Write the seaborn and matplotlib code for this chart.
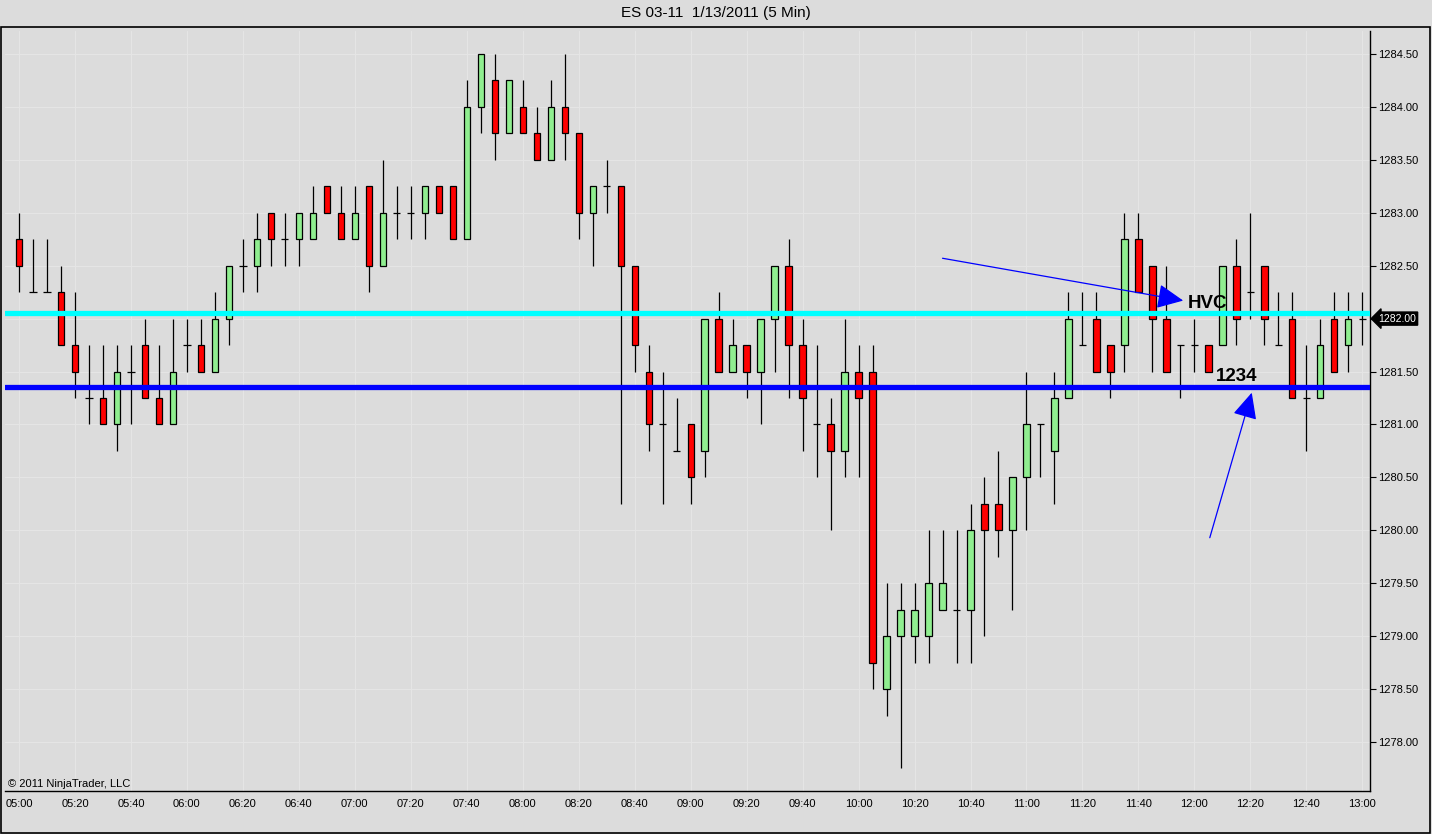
import numpy as np
import pandas as pd
import seaborn as sns
import matplotlib.pyplot as plt
from matplotlib.ticker import FormatStrFormatter
from matplotlib.patches import Rectangle
import matplotlib.transforms as mtransforms

# 5 min bars of ES 03-11, 05:00 .. 13:00
opens = [1282.75, 1282.25, 1282.25, 1282.25, 1281.75, 1281.25, 1281.25, 1281.0, 1281.5, 1281.75,
         1281.25, 1281.0, 1281.75, 1281.75, 1281.5, 1282.0, 1282.5, 1282.5, 1283.0, 1282.75,
         1282.75, 1282.75, 1283.25, 1283.0, 1282.75, 1283.25, 1282.5, 1283.0, 1283.0, 1283.0,
         1283.25, 1283.25, 1282.75, 1284.0, 1284.25, 1283.75, 1284.0, 1283.75, 1283.5, 1284.0,
         1283.75, 1283.0, 1283.25, 1283.25, 1282.5, 1281.5, 1281.0, 1280.75, 1281.0, 1280.75,
         1282.0, 1281.5, 1281.75, 1281.5, 1282.0, 1282.5, 1281.75, 1281.0, 1281.0, 1280.75,
         1281.5, 1281.5, 1278.5, 1279.0, 1279.0, 1279.0, 1279.25, 1279.25, 1279.25, 1280.25,
         1280.25, 1280.0, 1280.5, 1281.0, 1280.75, 1281.25, 1281.75, 1282.0, 1281.75, 1281.75,
         1282.75, 1282.5, 1282.0, 1281.75, 1281.75, 1281.75, 1281.75, 1282.5, 1282.25, 1282.5,
         1281.75, 1282.0, 1281.25, 1281.25, 1282.0, 1281.75, 1282.0]
highs = [1283.0, 1282.75, 1282.75, 1282.5, 1282.25, 1281.75, 1281.75, 1281.75, 1281.75, 1282.0,
         1281.75, 1282.0, 1282.0, 1282.0, 1282.25, 1282.5, 1282.75, 1283.0, 1283.0, 1283.0,
         1283.0, 1283.25, 1283.25, 1283.25, 1283.25, 1283.25, 1283.5, 1283.25, 1283.25, 1283.25,
         1283.25, 1283.25, 1284.25, 1284.5, 1284.5, 1284.25, 1284.25, 1284.0, 1284.25, 1284.5,
         1283.75, 1283.25, 1283.5, 1283.25, 1282.5, 1281.75, 1281.5, 1281.25, 1281.0, 1282.0,
         1282.25, 1282.0, 1281.75, 1282.0, 1282.5, 1282.75, 1282.0, 1281.75, 1281.25, 1282.0,
         1281.75, 1281.75, 1279.5, 1279.5, 1279.5, 1280.0, 1280.0, 1280.0, 1280.25, 1280.5,
         1280.75, 1280.5, 1281.5, 1281.0, 1281.5, 1282.25, 1282.25, 1282.25, 1281.75, 1283.0,
         1283.0, 1282.5, 1282.5, 1281.75, 1282.0, 1281.75, 1282.5, 1282.75, 1283.0, 1282.5,
         1282.25, 1282.25, 1281.75, 1282.0, 1282.25, 1282.25, 1282.25]
lows = [1282.25, 1282.25, 1282.25, 1281.75, 1281.25, 1281.0, 1281.0, 1280.75, 1281.0, 1281.25,
        1281.0, 1281.0, 1281.5, 1281.5, 1281.5, 1281.75, 1282.25, 1282.25, 1282.5, 1282.5,
        1282.5, 1282.75, 1283.0, 1282.75, 1282.75, 1282.25, 1282.5, 1282.75, 1282.75, 1282.75,
        1283.0, 1282.75, 1282.75, 1283.75, 1283.5, 1283.75, 1283.75, 1283.5, 1283.5, 1283.5,
        1282.75, 1282.5, 1283.0, 1280.25, 1281.5, 1280.75, 1280.25, 1280.75, 1280.25, 1280.5,
        1281.5, 1281.5, 1281.25, 1281.0, 1281.5, 1281.25, 1280.75, 1280.5, 1280.0, 1280.5,
        1280.5, 1278.5, 1278.25, 1277.75, 1278.75, 1278.75, 1279.25, 1278.75, 1278.75, 1279.0,
        1279.75, 1279.25, 1280.0, 1280.5, 1280.25, 1281.25, 1281.75, 1281.5, 1281.25, 1281.5,
        1282.25, 1281.5, 1281.5, 1281.25, 1281.5, 1281.5, 1281.75, 1281.75, 1282.0, 1281.75,
        1281.75, 1281.25, 1280.75, 1281.25, 1281.5, 1281.5, 1281.75]
closes = [1282.5, 1282.25, 1282.25, 1281.75, 1281.5, 1281.25, 1281.0, 1281.5, 1281.5, 1281.25,
          1281.0, 1281.5, 1281.75, 1281.5, 1282.0, 1282.5, 1282.5, 1282.75, 1282.75, 1282.75,
          1283.0, 1283.0, 1283.0, 1282.75, 1283.0, 1282.5, 1283.0, 1283.0, 1283.0, 1283.25,
          1283.0, 1282.75, 1284.0, 1284.5, 1283.75, 1284.25, 1283.75, 1283.5, 1284.0, 1283.75,
          1283.0, 1283.25, 1283.25, 1282.5, 1281.75, 1281.0, 1281.0, 1280.75, 1280.5, 1282.0,
          1281.5, 1281.75, 1281.5, 1282.0, 1282.5, 1281.75, 1281.25, 1281.0, 1280.75, 1281.5,
          1281.25, 1278.75, 1279.0, 1279.25, 1279.25, 1279.5, 1279.5, 1279.25, 1280.0, 1280.0,
          1280.0, 1280.5, 1281.0, 1281.0, 1281.25, 1282.0, 1281.75, 1281.5, 1281.5, 1282.75,
          1282.25, 1282.0, 1281.5, 1281.75, 1281.75, 1281.5, 1282.5, 1282.0, 1282.25, 1282.0,
          1281.75, 1281.25, 1281.25, 1281.75, 1281.5, 1282.0, 1282.0]

time_labels = ["05:00", "05:20", "05:40", "06:00", "06:20", "06:40", "07:00", "07:20", "07:40",
               "08:00", "08:20", "08:40", "09:00", "09:20", "09:40", "10:00", "10:20", "10:40",
               "11:00", "11:20", "11:40", "12:00", "12:20", "12:40", "13:00"]
price_ticks = [1278.0, 1278.5, 1279.0, 1279.5, 1280.0, 1280.5, 1281.0, 1281.5, 1282.0,
               1282.5, 1283.0, 1283.5, 1284.0, 1284.5]

hvc_level = 1282.05
level_1234 = 1281.35
last_price = 1282.00

df = pd.DataFrame({"open": opens, "high": highs, "low": lows, "close": closes})
df["bar"] = np.arange(len(df))

sns.set_style("white", {"axes.facecolor": "#dcdcdc", "figure.facecolor": "#dcdcdc",
                        "text.color": "black", "xtick.color": "black", "ytick.color": "black"})
plt.rcParams["font.family"] = ["Liberation Sans", "DejaVu Sans"]

fig = plt.figure(figsize=(14.32, 8.34), dpi=100)
ax = fig.add_axes([5 / 1432, 1 - 791 / 834, 1365 / 1432, 760 / 834])
ax.set_facecolor("#dcdcdc")

# grid
for t in price_ticks:
    ax.axhline(t, color="#e5e5e5", lw=0.8, zorder=0)
for i in range(0, len(df), 4):
    ax.axvline(i, color="#e5e5e5", lw=0.8, zorder=0)

# wicks
ax.vlines(df["bar"], df["low"], df["high"], color="black", lw=0.9, zorder=2)

up = df[df["close"] > df["open"]]
down = df[df["close"] < df["open"]]
doji = df[df["close"] == df["open"]]
ax.bar(up["bar"], up["close"] - up["open"], bottom=up["open"], width=0.45,
       color="#90ee90", edgecolor="black", linewidth=0.9, zorder=3)
ax.bar(down["bar"], down["open"] - down["close"], bottom=down["close"], width=0.45,
       color="#ff0000", edgecolor="black", linewidth=0.9, zorder=3)
ax.hlines(doji["open"], doji["bar"] - 0.26, doji["bar"] + 0.26, color="black", lw=0.9, zorder=3)

# drawn levels
ax.axhline(hvc_level, color="#00ffff", lw=3.8, zorder=4)
ax.axhline(level_1234, color="#0000ff", lw=3.8, zorder=4)

arrow = dict(arrowstyle="-|>,head_length=0.85,head_width=0.4", color="#0000ff", lw=0.9,
             mutation_scale=19, shrinkA=0, shrinkB=0)
ax.annotate("", xy=(83.2, 1282.17), xytext=(66.0, 1282.57), arrowprops=arrow, zorder=5)
ax.annotate("", xy=(88.1, 1281.30), xytext=(85.1, 1279.93), arrowprops=arrow, zorder=5)
ax.text(83.5, 1282.14, "HVC", fontsize=13.5, fontweight="bold", color="black",
        va="center", ha="left", zorder=6)
ax.text(85.5, 1281.45, "1234", fontsize=13.5, fontweight="bold", color="black",
        va="center", ha="left", zorder=6)

ax.set_xlim(-1, 96.55)
ax.set_ylim(1277.537, 1284.717)

ax.set_xticks(np.arange(0, len(df), 4))
ax.set_xticklabels(time_labels)
ax.set_yticks(price_ticks)
ax.yaxis.set_major_formatter(FormatStrFormatter("%.2f"))
ax.yaxis.tick_right()
ax.tick_params(axis="both", labelsize=8, length=4, width=0.8, color="black", labelcolor="black",
               pad=2, direction="out")
for side in ["top", "left"]:
    ax.spines[side].set_visible(False)
for side in ["right", "bottom"]:
    ax.spines[side].set_color("black")
    ax.spines[side].set_linewidth(1.0)

# last price marker
trans = mtransforms.blended_transform_factory(ax.transAxes, ax.transData)
ax.text(1.006, last_price, "1282.00", transform=trans, fontsize=7.5, color="white",
        va="center", ha="left", zorder=7,
        bbox=dict(boxstyle="larrow,pad=0.15", fc="black", ec="black"))

ax.text(0.002, 0.003, "\u00a9 2011 NinjaTrader, LLC", transform=ax.transAxes, fontsize=8,
        color="black", va="bottom", ha="left")

fig.text(0.5, 1 - 13 / 834, "ES 03-11  1/13/2011 (5 Min)", fontsize=11, ha="center",
         va="center", color="black")
fig.patches.append(Rectangle((1 / 1432, 1 / 834), 1429 / 1432, 806 / 834, transform=fig.transFigure,
                             fill=False, ec="black", lw=1.2))

fig.savefig("out.png", dpi=100, facecolor="#dcdcdc")
